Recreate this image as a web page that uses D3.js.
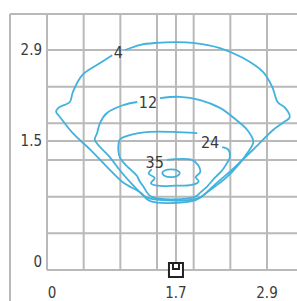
<!DOCTYPE html>
<html>
<head>
<meta charset="utf-8">
<script src="https://cdn.jsdelivr.net/npm/d3@7"></script>
<style>
  html, body { margin: 0; padding: 0; background: #fff; }
  svg { display: block; }
  text { font-family: "DejaVu Sans Condensed", "DejaVu Sans", sans-serif; fill: #3a3a3a; }
</style>
</head>
<body>
<div id="chart"></div>
<script>
// axis ticks
var xTicks = [0, 1.7, 2.9];
var xTickLabels = ["0", "1.7", "2.9"];
var yTicks = [0, 1.5, 2.9];
var yTickLabels = ["0", "1.5", "2.9"];

// isolines (x, y in chart units)
var contour4 = [[1.03,2.90],[1.23,2.98],[1.45,3.01],[1.69,3.02],[1.92,3.01],[2.28,2.93],[2.58,2.78],
  [2.85,2.56],[2.97,2.33],[3.04,2.10],[3.14,2.01],[3.20,1.87],[3.11,1.78],[2.98,1.67],[2.74,1.42],
  [2.48,1.20],[2.21,0.99],[2.02,0.84],[1.91,0.80],[1.36,0.80],[1.23,0.90],[1.00,1.02],[0.79,1.20],
  [0.57,1.40],[0.34,1.62],[0.17,1.87],[0.12,1.95],[0.15,2.01],[0.30,2.10],[0.34,2.25],[0.47,2.52],
  [0.70,2.70],[0.86,2.82]];
var contour12 = [[1.49,2.16],[1.75,2.18],[2.02,2.13],[2.28,2.01],[2.50,1.82],[2.64,1.67],[2.72,1.49],
  [2.64,1.36],[2.54,1.24],[2.37,1.08],[2.15,0.93],[1.98,0.83],[1.36,0.83],[1.27,0.87],[1.13,0.99],
  [0.96,1.16],[0.83,1.31],[0.70,1.43],[0.63,1.52],[0.66,1.62],[0.70,1.78],[0.79,1.93],[1.00,2.05],
  [1.19,2.10]];
var contour24 = [[2.31,1.43],[2.39,1.40],[2.41,1.31],[2.37,1.24],[2.31,1.16],[2.21,1.07],[2.11,0.97],
  [2.02,0.90],[1.95,0.85],[1.38,0.85],[1.27,0.97],[1.21,1.05],[1.19,1.09],[1.10,1.17],[1.05,1.21],
  [0.96,1.31],[0.94,1.40],[0.96,1.52],[1.09,1.59],[1.36,1.64],[1.66,1.64],[1.98,1.62]];
var contour35 = [[1.58,1.28],[1.91,1.28],[1.99,1.22],[2.02,1.14],[1.96,1.08],[2.00,1.03],[1.91,0.99],
  [1.69,0.98],[1.46,0.98],[1.37,1.01],[1.42,1.07],[1.34,1.12],[1.38,1.17]];
var contourCore = [[1.52,1.13],[1.56,1.16],[1.64,1.17],[1.71,1.16],[1.75,1.13],[1.71,1.09],[1.64,1.08],[1.56,1.09]];

var contourLabels = ["4", "12", "24", "35"];
var labelX = [0.94, 1.33, 2.15, 1.42];
var labelY = [2.87, 2.10, 1.49, 1.26];

// luminaire position
var lampX = 1.7;
var lampY = 0;

var w = 297;
var h = 301;

var svg = d3.select("#chart")
  .append("svg")
  .attr("width", w)
  .attr("height", h);

var x = d3.scaleLinear().domain([0, 2.9]).range([47, 267]);
// y axis is not evenly spaced in the original, so use a piecewise scale
var y = d3.scaleLinear().domain([0, 1.5, 2.9]).range([270, 141, 50]);
// grid cells (6 each way)
var gx = d3.scaleLinear().domain([0, 6]).range([47, 267]);
var gy = d3.scaleLinear().domain([0, 6]).range([270, 50]);

var gridColor = "#b9b9b9";
var grid = svg.append("g")
  .attr("stroke", gridColor)
  .attr("stroke-width", 2)
  .attr("fill", "none");

// outer frame
grid.append("line").attr("x1", 10).attr("x2", 10).attr("y1", 14).attr("y2", h);
grid.append("line").attr("x1", 10).attr("x2", w).attr("y1", 14).attr("y2", 14);

var vLines = d3.range(7).map(function (i) { return gx(i); }).concat([x(1.7)]);
var hLines = d3.range(7).map(function (i) { return gy(i); }).concat([y(1.5)]);

grid.selectAll(".v")
  .data(vLines)
  .enter()
  .append("line")
  .attr("x1", function (d) { return d; })
  .attr("x2", function (d) { return d; })
  .attr("y1", 14)
  .attr("y2", gy(0));

grid.selectAll(".h")
  .data(hLines)
  .enter()
  .append("line")
  .attr("x1", gx(0))
  .attr("x2", w)
  .attr("y1", function (d) { return d; })
  .attr("y2", function (d) { return d; });

// tick labels
svg.selectAll(".ylab")
  .data(yTicks)
  .enter()
  .append("text")
  .attr("x", 42)
  .attr("y", function (d, i) { return y(d) + (i === 0 ? -3 : 5); })
  .attr("text-anchor", "end")
  .attr("font-size", 15)
  .text(function (d, i) { return yTickLabels[i]; });

svg.selectAll(".xlab")
  .data(xTicks)
  .enter()
  .append("text")
  .attr("x", function (d, i) { return x(d) + (i === 0 ? 5 : 0); })
  .attr("y", 298)
  .attr("text-anchor", "middle")
  .attr("font-size", 15)
  .text(function (d, i) { return xTickLabels[i]; });

// isolines
var line = d3.line()
  .x(function (d) { return x(d[0]); })
  .y(function (d) { return y(d[1]); })
  .curve(d3.curveCatmullRom.alpha(0.5));

var closedLine = d3.line()
  .x(function (d) { return x(d[0]); })
  .y(function (d) { return y(d[1]); })
  .curve(d3.curveCatmullRomClosed.alpha(0.5));

var blue = "#41b2dd";
[contour4, contour12, contour24, contour35].forEach(function (c) {
  svg.append("path")
    .attr("d", line(c))
    .attr("fill", "none")
    .attr("stroke", blue)
    .attr("stroke-width", 1.8)
    .attr("stroke-linejoin", "round");
});
svg.append("path")
  .attr("d", closedLine(contourCore))
  .attr("fill", "none")
  .attr("stroke", blue)
  .attr("stroke-width", 1.8);

svg.selectAll(".clab")
  .data(contourLabels)
  .enter()
  .append("text")
  .attr("x", function (d, i) { return x(labelX[i]); })
  .attr("y", function (d, i) { return y(labelY[i]) + 6; })
  .attr("text-anchor", "middle")
  .attr("font-size", 16)
  .text(function (d) { return d; });

// luminaire symbol
var lamp = svg.append("g")
  .attr("transform", "translate(" + x(lampX) + "," + y(lampY) + ")")
  .attr("fill", "#fff")
  .attr("stroke", "#222")
  .attr("stroke-width", 2);
lamp.append("rect").attr("x", -7).attr("y", -7).attr("width", 14).attr("height", 14);
lamp.append("path").attr("d", "M-3,-7 V-1 H3 V-7").attr("fill", "none");
</script>
</body>
</html>
